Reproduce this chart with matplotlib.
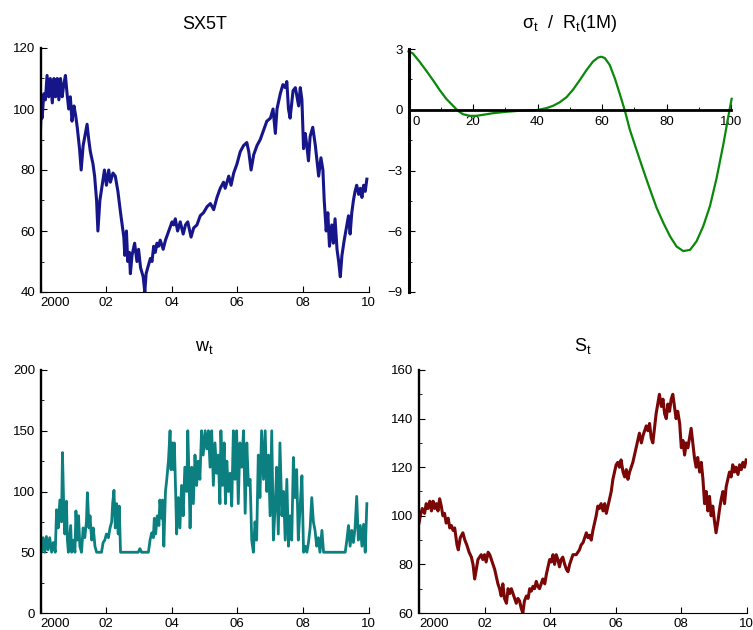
import matplotlib
matplotlib.use("Agg")
import matplotlib.pyplot as plt
from matplotlib.ticker import FixedLocator, MultipleLocator
from matplotlib.transforms import ScaledTranslation

plt.rcParams['font.family'] = ['Liberation Sans', 'DejaVu Sans']
plt.rcParams['mathtext.fontset'] = 'custom'
plt.rcParams['mathtext.rm'] = 'Liberation Sans'

# ---------------- data ----------------
sx_years = [2000.00, 2000.02, 2000.05, 2000.10, 2000.15, 2000.20, 2000.25, 2000.30, 2000.36, 2000.41,
            2000.46, 2000.51, 2000.56, 2000.61, 2000.66, 2000.71, 2000.76, 2000.81, 2000.86, 2000.91,
            2000.96, 2001.02, 2001.07, 2001.12, 2001.19, 2001.24, 2001.30, 2001.37, 2001.42, 2001.47,
            2001.52, 2001.60, 2001.65, 2001.71, 2001.75, 2001.81, 2001.88, 2001.95, 2002.01, 2002.08,
            2002.13, 2002.21, 2002.28, 2002.36, 2002.44, 2002.49, 2002.54, 2002.57, 2002.62, 2002.66,
            2002.71, 2002.74, 2002.79, 2002.87, 2002.94, 2002.99, 2003.05, 2003.13, 2003.18, 2003.22,
            2003.27, 2003.35, 2003.40, 2003.45, 2003.50, 2003.55, 2003.60, 2003.65, 2003.74, 2003.81,
            2003.91, 2004.01, 2004.06, 2004.11, 2004.18, 2004.26, 2004.35, 2004.42, 2004.49, 2004.59,
            2004.67, 2004.77, 2004.87, 2004.97, 2005.08, 2005.18, 2005.28, 2005.38, 2005.48, 2005.58,
            2005.63, 2005.74, 2005.81, 2005.89, 2005.99, 2006.09, 2006.19, 2006.29, 2006.35, 2006.42,
            2006.50, 2006.60, 2006.70, 2006.80, 2006.90, 2007.01, 2007.09, 2007.16, 2007.21, 2007.31,
            2007.39, 2007.46, 2007.51, 2007.56, 2007.61, 2007.70, 2007.77, 2007.82, 2007.87, 2007.92,
            2007.97, 2008.02, 2008.07, 2008.12, 2008.17, 2008.22, 2008.30, 2008.38, 2008.43, 2008.48,
            2008.55, 2008.61, 2008.65, 2008.71, 2008.76, 2008.81, 2008.88, 2008.93, 2008.98, 2009.04,
            2009.09, 2009.14, 2009.19, 2009.26, 2009.34, 2009.39, 2009.44, 2009.49, 2009.54, 2009.59,
            2009.64, 2009.70, 2009.75, 2009.80, 2009.85, 2009.90, 2009.95]
sx_values = [93, 100, 97, 105, 103, 111, 104, 110, 102, 110,
             104, 110, 103, 110, 104, 108, 111, 105, 100, 104,
             96, 101, 98, 94, 87, 80, 88, 92, 95, 90,
             86, 82, 78, 70, 60, 70, 75, 80, 75, 80,
             76, 79, 78, 73, 66, 62, 58, 52, 60, 50,
             53, 46, 52, 56, 50, 54, 48, 45, 40, 46,
             48, 51, 50, 55, 53, 56, 55, 57, 54, 57,
             60, 63, 62, 64, 60, 63, 59, 62, 63, 58,
             61, 62, 65, 66, 68, 69, 67, 71, 74, 76,
             74, 78, 75, 79, 82, 86, 88, 89, 86, 80,
             85, 88, 90, 93, 96, 97, 100, 92, 100, 105,
             108, 107, 109, 100, 97, 106, 107, 104, 101, 107,
             103, 87, 92, 88, 83, 91, 94, 88, 83, 78,
             84, 80, 70, 60, 66, 55, 62, 56, 64, 54,
             50, 45, 52, 57, 62, 65, 59, 66, 70, 73,
             75, 72, 74, 71, 75, 73, 77]

sig_x = [0, 1.35, 3.4, 5.5, 7.6, 9.6, 11.7, 13.8, 15.3, 16.9, 19, 21, 23.1, 26.2, 30.4, 34.5,
         39.7, 42.8, 44.9, 46.9, 49, 51, 53.1, 55.2, 57.2, 58.8, 59.8, 60.9, 62.4, 64, 65.5,
         67.1, 68.6, 70.7, 72.8, 74.8, 76.9, 79, 81.1, 83.1, 85.2, 87.3, 89.3, 91.4, 93.5,
         95.5, 97.6, 99.2, 100.2]
sig_y = [2.88, 2.78, 2.38, 1.93, 1.46, 0.99, 0.54, 0.2, -0.05, -0.22, -0.3, -0.3, -0.25, -0.17,
         -0.1, -0.05, -0.02, 0.08, 0.2, 0.37, 0.62, 0.99, 1.46, 1.96, 2.38, 2.58, 2.62, 2.55,
         2.21, 1.54, 0.79, -0.05, -0.97, -1.98, -2.98, -3.9, -4.83, -5.58, -6.25, -6.75, -6.98,
         -6.92, -6.5, -5.75, -4.74, -3.4, -1.73, -0.3, 0.54]
sig_ticks = [0, 20, 40, 60, 80, 100]

w_years = [2000.00, 2000.03, 2000.08, 2000.13, 2000.18, 2000.23, 2000.28, 2000.34, 2000.39, 2000.45,
           2000.49, 2000.54, 2000.59, 2000.64, 2000.67, 2000.71, 2000.74, 2000.79, 2000.82, 2000.85,
           2000.92, 2000.95, 2001.00, 2001.05, 2001.08, 2001.12, 2001.16, 2001.20, 2001.25, 2001.30,
           2001.35, 2001.40, 2001.43, 2001.48, 2001.51, 2001.56, 2001.61, 2001.66, 2001.71, 2001.86,
           2001.91, 2001.96, 2002.01, 2002.07, 2002.12, 2002.17, 2002.20, 2002.24, 2002.28, 2002.32,
           2002.37, 2002.40, 2002.44, 2002.98, 2003.03, 2003.08, 2003.29, 2003.34, 2003.39, 2003.44,
           2003.47, 2003.51, 2003.56, 2003.61, 2003.64, 2003.69, 2003.72, 2003.76, 2003.81, 2003.85,
           2003.90, 2003.95, 2003.98, 2004.02, 2004.05, 2004.08, 2004.12, 2004.15, 2004.20, 2004.25,
           2004.30, 2004.35, 2004.40, 2004.46, 2004.49, 2004.53, 2004.56, 2004.61, 2004.66, 2004.71,
           2004.76, 2004.81, 2004.86, 2004.91, 2004.96, 2005.02, 2005.07, 2005.12, 2005.17, 2005.22,
           2005.27, 2005.32, 2005.37, 2005.42, 2005.47, 2005.50, 2005.55, 2005.60, 2005.64, 2005.68,
           2005.73, 2005.78, 2005.83, 2005.88, 2005.93, 2005.98, 2006.03, 2006.08, 2006.13, 2006.19,
           2006.24, 2006.29, 2006.34, 2006.39, 2006.44, 2006.49, 2006.54, 2006.59, 2006.64, 2006.69,
           2006.74, 2006.80, 2006.85, 2006.90, 2006.95, 2007.00, 2007.05, 2007.10, 2007.15, 2007.20,
           2007.25, 2007.30, 2007.36, 2007.41, 2007.46, 2007.51, 2007.56, 2007.61, 2007.66, 2007.71,
           2007.76, 2007.81, 2007.86, 2007.91, 2007.97, 2008.02, 2008.07, 2008.12, 2008.17, 2008.22,
           2008.27, 2008.32, 2008.37, 2008.42, 2008.47, 2008.52, 2008.58, 2008.63, 2009.29, 2009.34,
           2009.39, 2009.44, 2009.49, 2009.54, 2009.59, 2009.64, 2009.69, 2009.75, 2009.80, 2009.85,
           2009.90, 2009.95]
w_values = [60, 50, 62, 50, 63, 52, 62, 50, 58, 50,
            85, 70, 93, 75, 132, 85, 65, 92, 60, 50,
            72, 50, 60, 50, 84, 60, 80, 55, 50, 70,
            62, 75, 99, 70, 80, 60, 70, 55, 50, 50,
            58, 60, 65, 62, 70, 75, 90, 101, 70, 90,
            65, 88, 50, 50, 53, 50, 50, 60, 66, 62,
            78, 65, 80, 72, 93, 78, 93, 55, 100, 110,
            125, 150, 118, 140, 118, 140, 100, 65, 95, 70,
            105, 80, 120, 100, 150, 110, 70, 120, 90, 130,
            105, 125, 110, 150, 130, 150, 135, 150, 120, 150,
            105, 140, 115, 130, 90, 150, 105, 140, 90, 125,
            100, 115, 88, 150, 110, 150, 90, 140, 120, 150,
            82, 140, 105, 110, 60, 50, 75, 60, 130, 95,
            150, 110, 150, 100, 130, 80, 150, 60, 85, 120,
            65, 140, 80, 100, 60, 110, 55, 80, 60, 128,
            95, 118, 60, 85, 113, 50, 55, 50, 58, 70,
            95, 75, 68, 55, 62, 50, 68, 50, 50, 60,
            72, 55, 68, 58, 70, 96, 60, 72, 55, 73,
            50, 90]

s_years = [2000.00, 2000.04, 2000.10, 2000.17, 2000.22, 2000.27, 2000.33, 2000.38, 2000.43, 2000.48,
           2000.53, 2000.58, 2000.63, 2000.68, 2000.73, 2000.78, 2000.83, 2000.89, 2000.94, 2000.99,
           2001.04, 2001.09, 2001.16, 2001.20, 2001.26, 2001.34, 2001.40, 2001.46, 2001.53, 2001.60,
           2001.65, 2001.70, 2001.75, 2001.80, 2001.85, 2001.90, 2001.95, 2002.00, 2002.05, 2002.11,
           2002.16, 2002.21, 2002.26, 2002.31, 2002.36, 2002.41, 2002.46, 2002.51, 2002.56, 2002.61,
           2002.67, 2002.72, 2002.77, 2002.82, 2002.87, 2002.92, 2002.97, 2003.02, 2003.07, 2003.12,
           2003.17, 2003.22, 2003.28, 2003.33, 2003.38, 2003.43, 2003.48, 2003.53, 2003.58, 2003.63,
           2003.68, 2003.73, 2003.78, 2003.84, 2003.89, 2003.94, 2003.99, 2004.04, 2004.09, 2004.14,
           2004.19, 2004.24, 2004.29, 2004.34, 2004.39, 2004.45, 2004.50, 2004.55, 2004.60, 2004.65,
           2004.70, 2004.80, 2004.85, 2004.90, 2004.95, 2005.01, 2005.06, 2005.11, 2005.16, 2005.21,
           2005.26, 2005.31, 2005.36, 2005.41, 2005.46, 2005.51, 2005.56, 2005.62, 2005.67, 2005.72,
           2005.77, 2005.82, 2005.87, 2005.92, 2005.97, 2006.02, 2006.07, 2006.12, 2006.17, 2006.23,
           2006.28, 2006.33, 2006.38, 2006.43, 2006.48, 2006.53, 2006.58, 2006.63, 2006.68, 2006.73,
           2006.79, 2006.84, 2006.89, 2006.94, 2006.99, 2007.04, 2007.09, 2007.14, 2007.19, 2007.24,
           2007.29, 2007.34, 2007.40, 2007.45, 2007.50, 2007.55, 2007.60, 2007.65, 2007.70, 2007.75,
           2007.80, 2007.85, 2007.90, 2007.96, 2008.01, 2008.06, 2008.11, 2008.16, 2008.21, 2008.26,
           2008.31, 2008.36, 2008.41, 2008.46, 2008.51, 2008.57, 2008.62, 2008.67, 2008.72, 2008.77,
           2008.82, 2008.87, 2008.92, 2008.97, 2009.02, 2009.07, 2009.13, 2009.18, 2009.23, 2009.28,
           2009.33, 2009.38, 2009.43, 2009.48, 2009.53, 2009.58, 2009.63, 2009.68, 2009.74, 2009.79,
           2009.84, 2009.89, 2009.94, 2009.99]
s_values = [97, 100, 103, 101, 105, 103, 106, 102, 106, 103,
            105, 102, 107, 104, 100, 101, 97, 99, 95, 96,
            94, 95, 88, 86, 91, 93, 90, 88, 85, 83,
            80, 74, 78, 82, 83, 84, 82, 84, 81, 85,
            84, 82, 80, 78, 75, 72, 70, 67, 72, 66,
            64, 70, 68, 70, 68, 66, 64, 66, 65, 62,
            60, 65, 67, 66, 70, 69, 71, 70, 73, 71,
            70, 72, 74, 72, 76, 79, 82, 81, 84, 80,
            84, 82, 79, 82, 83, 80, 78, 77, 80, 82,
            84, 84, 85, 86, 88, 89, 91, 93, 91, 92,
            90, 94, 97, 100, 104, 103, 105, 102, 105, 101,
            104, 107, 110, 115, 118, 121, 122, 120, 123, 118,
            116, 119, 115, 118, 120, 122, 125, 128, 131, 134,
            130, 133, 135, 137, 135, 138, 132, 130, 136, 142,
            146, 150, 145, 148, 142, 140, 146, 143, 148, 150,
            145, 140, 143, 138, 128, 131, 125, 130, 128, 132,
            136, 130, 124, 120, 124, 118, 122, 115, 105, 110,
            102, 108, 100, 104, 98, 93, 98, 103, 107, 110,
            105, 112, 115, 118, 116, 121, 118, 120, 117, 121,
            119, 122, 120, 123]

year_ticks = [2000, 2002, 2004, 2006, 2008, 2010]
year_labels = ['2000', '02', '04', '06', '08', '10']

# ---------------- figure ----------------
W, H = 753, 630
fig = plt.figure(figsize=(W / 100, H / 100), dpi=100)


def px_axes(x0, x1, ytop, ybot):
    return fig.add_axes([x0 / W, (H - ybot) / H, (x1 - x0) / W, (ybot - ytop) / H])


TICK_FS = 9.5
TITLE_FS = 13


def style_time_axes(ax, ylim, ymajor, yminor):
    ax.set_xlim(2000, 2010)
    ax.set_ylim(*ylim)
    for s in ['top', 'right']:
        ax.spines[s].set_visible(False)
    ax.spines['left'].set_linewidth(1.7)
    ax.spines['bottom'].set_linewidth(0.8)
    ax.xaxis.set_major_locator(FixedLocator(year_ticks))
    ax.set_xticklabels(year_labels)
    ax.yaxis.set_major_locator(MultipleLocator(ymajor))
    ax.yaxis.set_minor_locator(MultipleLocator(yminor))
    ax.tick_params(axis='both', which='major', direction='in', length=4, width=0.8,
                   labelsize=TICK_FS, pad=4)
    ax.tick_params(axis='y', which='minor', direction='in', length=2.5, width=0.6)
    ax.tick_params(axis='x', pad=3.5)
    ax.get_xticklabels()[0].set_ha('left')


# top-left: SX5T
ax1 = px_axes(40.5, 368.5, 48, 292)
ax1.plot(sx_years, sx_values, color='#16168a', lw=2.2)
style_time_axes(ax1, (40, 120), 20, 10)
ax1.set_title('SX5T', fontsize=TITLE_FS, pad=14)

# top-right: sigma / R
ax2 = px_axes(408.5, 731, 49, 292)
ax2.plot(sig_x, sig_y, color='#0a880a', lw=1.6, clip_on=False)
ax2.set_xlim(0, 100)
ax2.set_ylim(-9, 3)
for s in ['top', 'right']:
    ax2.spines[s].set_visible(False)
ax2.spines['bottom'].set_position(('data', 0))
ax2.spines['left'].set_linewidth(2.2)
ax2.spines['bottom'].set_linewidth(2.0)
ax2.xaxis.set_major_locator(FixedLocator(sig_ticks))
ax2.set_xticklabels([str(t) for t in sig_ticks])
ax2.xaxis.set_minor_locator(MultipleLocator(10))
ax2.yaxis.set_major_locator(FixedLocator([-9, -6, -3, 0, 3]))
ax2.set_yticklabels(['\u22129', '\u22126', '\u22123', '0', '3'])
ax2.yaxis.set_minor_locator(MultipleLocator(1.5))
ax2.tick_params(axis='both', which='major', direction='in', length=4, width=0.8,
                labelsize=TICK_FS, pad=4)
ax2.tick_params(axis='both', which='minor', direction='in', length=2.5, width=0.6)
ax2.tick_params(axis='x', pad=4.5)
zero_lab = ax2.get_xticklabels()[0]
zero_lab.set_transform(zero_lab.get_transform() +
                       ScaledTranslation(7.5 / 100, 0, fig.dpi_scale_trans))
ax2.set_title('σ$_\\mathregular{t}$  /  R$_\\mathregular{t}$(1M)', fontsize=TITLE_FS, pad=15)

# bottom-left: w_t
ax3 = px_axes(40.5, 368.5, 370, 613)
ax3.plot(w_years, w_values, color='#0c8080', lw=2.0)
style_time_axes(ax3, (0, 200), 50, 25)
ax3.set_title('w$_\\mathregular{t}$', fontsize=TITLE_FS, pad=14)

# bottom-right: S_t
ax4 = px_axes(419, 746.5, 370, 613)
ax4.plot(s_years, s_values, color='#7a0606', lw=2.2)
style_time_axes(ax4, (60, 160), 20, 10)
ax4.set_title('S$_\\mathregular{t}$', fontsize=TITLE_FS, pad=14)

fig.savefig('out.png', dpi=100)
